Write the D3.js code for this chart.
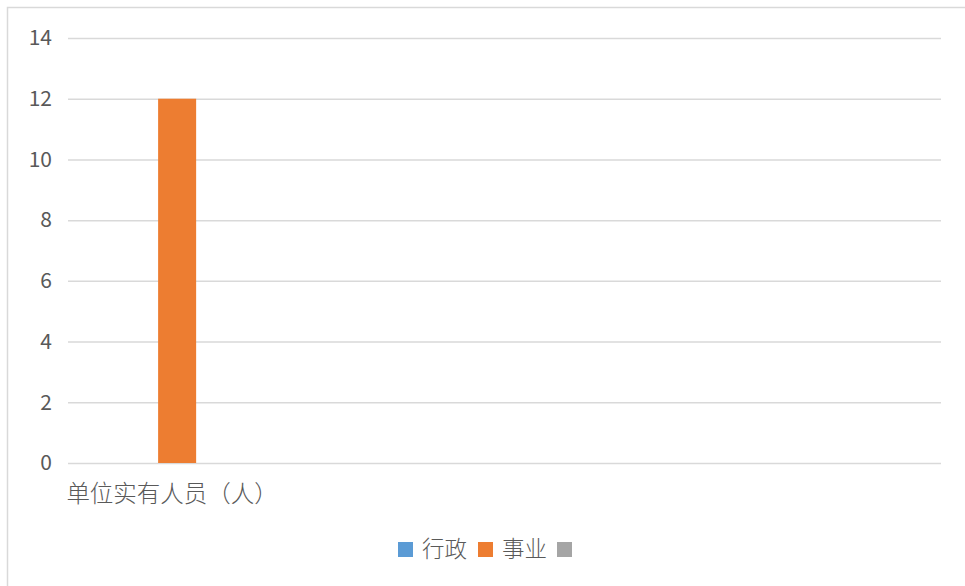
<!DOCTYPE html>
<html>
<head>
<meta charset="utf-8">
<script src="https://cdn.jsdelivr.net/npm/d3@7"></script>
<style>
  html, body { margin: 0; padding: 0; background: #fff; }
  svg { display: block; }
  text { font-family: "Noto Sans CJK SC", "Noto Sans", sans-serif; fill: #595959; }
</style>
</head>
<body>
<svg id="chart" width="965" height="586"></svg>
<script>
// Chart data
const categories = ['单位实有人员（人）', 'c2', 'c3', 'c4'];
const categoryLabels = ['单位实有人员（人）', '', '', ''];
const seriesNames = ['行政', '事业', ''];
const seriesColors = ['#5b9bd5', '#ed7d31', '#a5a5a5'];
// values per series, one per category
const xingzheng = [0, 0, 0, 0];
const shiye = [12, 0, 0, 0];
const other = [0, 0, 0, 0];
const yTicks = [0, 2, 4, 6, 8, 10, 12, 14];

const seriesValues = [xingzheng, shiye, other];

const svg = d3.select('#chart');

// outer chart border
svg.append('rect')
  .attr('x', 7.5).attr('y', 7.5)
  .attr('width', 990).attr('height', 620)
  .attr('fill', 'none')
  .attr('stroke', '#d9d9d9')
  .attr('stroke-width', 1.5);

const plot = { left: 68, right: 941, top: 38, bottom: 463 };

const x = d3.scaleBand()
  .domain(categories)
  .range([plot.left, plot.right]);

const xs = d3.scaleBand()
  .domain(d3.range(seriesNames.length))
  .range([0, x.bandwidth()])
  .paddingOuter(1.37);

const y = d3.scaleLinear()
  .domain([0, 14])
  .range([plot.bottom, plot.top]);

// gridlines + y labels
const yAxis = d3.axisLeft(y)
  .tickValues(yTicks)
  .tickSize(-(plot.right - plot.left))
  .tickPadding(16);

const gy = svg.append('g')
  .attr('transform', `translate(${plot.left},0)`)
  .call(yAxis);
gy.select('.domain').remove();
gy.selectAll('.tick line')
  .attr('stroke', '#d9d9d9')
  .attr('stroke-width', 1.5);
gy.selectAll('.tick text')
  .style('font-size', '21px')
  .style('fill', '#595959');

// bars
seriesValues.forEach((vals, si) => {
  svg.append('g')
    .selectAll('rect')
    .data(categories.map((c, i) => ({ c, v: vals[i] })))
    .enter().append('rect')
    .attr('x', d => x(d.c) + xs(si))
    .attr('width', xs.bandwidth())
    .attr('y', d => y(d.v))
    .attr('height', d => y(0) - y(d.v))
    .attr('fill', seriesColors[si]);
});

// category labels
svg.append('g')
  .selectAll('text')
  .data(categories)
  .enter().append('text')
  .attr('x', d => x(d) + x.bandwidth() / 2 - 5)
  .attr('y', 502)
  .attr('text-anchor', 'middle')
  .style('font-size', '23.5px')
  .style('font-weight', 300)
  .text((d, i) => categoryLabels[i]);

// legend
const legendItems = [
  { name: seriesNames[0], color: seriesColors[0], x: 398 },
  { name: seriesNames[1], color: seriesColors[1], x: 478 },
  { name: seriesNames[2], color: seriesColors[2], x: 557 }
];
const legend = svg.append('g');
legendItems.forEach(item => {
  legend.append('rect')
    .attr('x', item.x).attr('y', 542)
    .attr('width', 15).attr('height', 15)
    .attr('fill', item.color);
  legend.append('text')
    .attr('x', item.x + 24)
    .attr('y', 557)
    .style('font-size', '22.5px')
    .style('font-weight', 300)
    .text(item.name);
});
</script>
</body>
</html>
